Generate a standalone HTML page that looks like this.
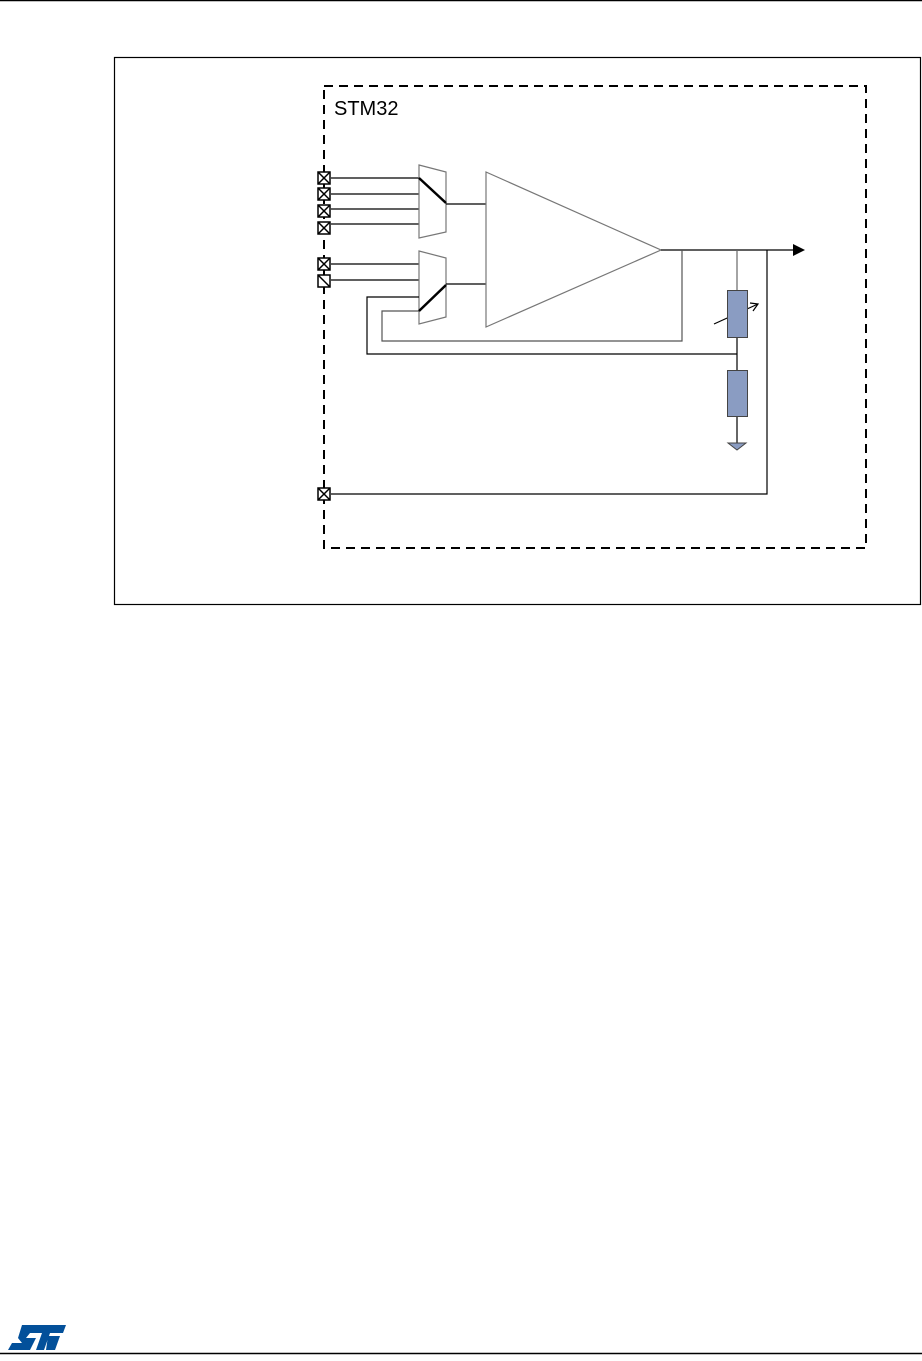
<!DOCTYPE html>
<html><head><style>
html,body{margin:0;padding:0;background:#fff;width:922px;height:1361px;overflow:hidden}
svg{display:block}
</style></head><body>
<svg width="922" height="1361" viewBox="0 0 922 1361" xmlns="http://www.w3.org/2000/svg">
<line x1="0" y1="0.5" x2="922" y2="0.5" stroke="#000" stroke-width="1.5"/>
<rect x="114.5" y="57.5" width="806" height="547" fill="none" stroke="#000" stroke-width="1.2"/>
<rect x="324" y="86" width="542" height="462" fill="none" stroke="#000" stroke-width="2" stroke-dasharray="9,6"/>
<text x="334" y="115" font-family="Liberation Sans, sans-serif" font-size="20">STM32</text>
<g stroke="#000" stroke-width="1.2" fill="none">
<line x1="331" y1="178" x2="419" y2="178"/>
<line x1="331" y1="194" x2="419" y2="194"/>
<line x1="331" y1="209" x2="419" y2="209"/>
<line x1="331" y1="224" x2="419" y2="224"/>
<line x1="331" y1="264" x2="419" y2="264"/>
<line x1="331" y1="280" x2="419" y2="280"/>
<polygon points="419,165 446,172 446,232 419,238" stroke="#777"/>
<polygon points="419,251 446,258 446,317 419,324" stroke="#777"/>
<line x1="446" y1="204" x2="486" y2="204"/>
<line x1="446" y1="284" x2="486" y2="284"/>
<polygon points="486,172 661,250 486,327" stroke="#777"/>
<line x1="661" y1="250" x2="795" y2="250"/>
<polyline points="682,250 682,341 382,341 382,311 419,311" stroke="#555"/>
<polyline points="737,354 367,354 367,297 419,297"/>
<line x1="737" y1="250" x2="737" y2="290" stroke="#666"/>
<line x1="737" y1="337" x2="737" y2="370"/>
<line x1="737" y1="416" x2="737" y2="443"/>
<polyline points="767,250 767,494 331,494"/>
<line x1="714" y1="324" x2="758" y2="304"/>
<polyline points="750,303 758,304 753,311"/>
</g>
<line x1="419" y1="178" x2="446" y2="203" stroke="#000" stroke-width="2.5"/>
<line x1="419" y1="311" x2="446" y2="285" stroke="#000" stroke-width="2.5"/>
<polygon points="793,244 805,250 793,256" fill="#000"/>
<rect x="727.5" y="290.5" width="20" height="47" fill="#8a9cc2" stroke="#444"/>
<rect x="727.5" y="370.5" width="20" height="46" fill="#8a9cc2" stroke="#444"/>
<polygon points="728,443 746,443 737,450" fill="#8a9cc2" stroke="#444"/>
<g stroke="#000" stroke-width="1.5" fill="#fff">
<rect x="318" y="172" width="12" height="12"/><line x1="318" y1="172" x2="330" y2="184"/><line x1="330" y1="172" x2="318" y2="184"/>
<rect x="318" y="188" width="12" height="12"/><line x1="318" y1="188" x2="330" y2="200"/><line x1="330" y1="188" x2="318" y2="200"/>
<rect x="318" y="205" width="12" height="12"/><line x1="318" y1="205" x2="330" y2="217"/><line x1="330" y1="205" x2="318" y2="217"/>
<rect x="318" y="222" width="12" height="12"/><line x1="318" y1="222" x2="330" y2="234"/><line x1="330" y1="222" x2="318" y2="234"/>
<rect x="318" y="258" width="12" height="12"/><line x1="318" y1="258" x2="330" y2="270"/><line x1="330" y1="258" x2="318" y2="270"/>
<rect x="318" y="275" width="12" height="12"/><line x1="318" y1="275" x2="330" y2="287"/>
<rect x="318" y="488" width="12" height="12"/><line x1="318" y1="488" x2="330" y2="500"/><line x1="330" y1="488" x2="318" y2="500"/>
</g>
<g fill="#03509a">
<path d="M22,1325 L66,1325 L63,1333 L50,1333 L44,1350 L36,1350 L42,1333 L30,1333 L26,1338 L36,1338 L30,1350 L8,1350 L12,1343 L22,1343 L18,1338 Z"/>
<path d="M48,1336 L60,1336 L55,1350 L46,1350 Z"/>
</g>
<line x1="0" y1="1353.5" x2="922" y2="1353.5" stroke="#000" stroke-width="1.5"/>
</svg>
</body></html>
